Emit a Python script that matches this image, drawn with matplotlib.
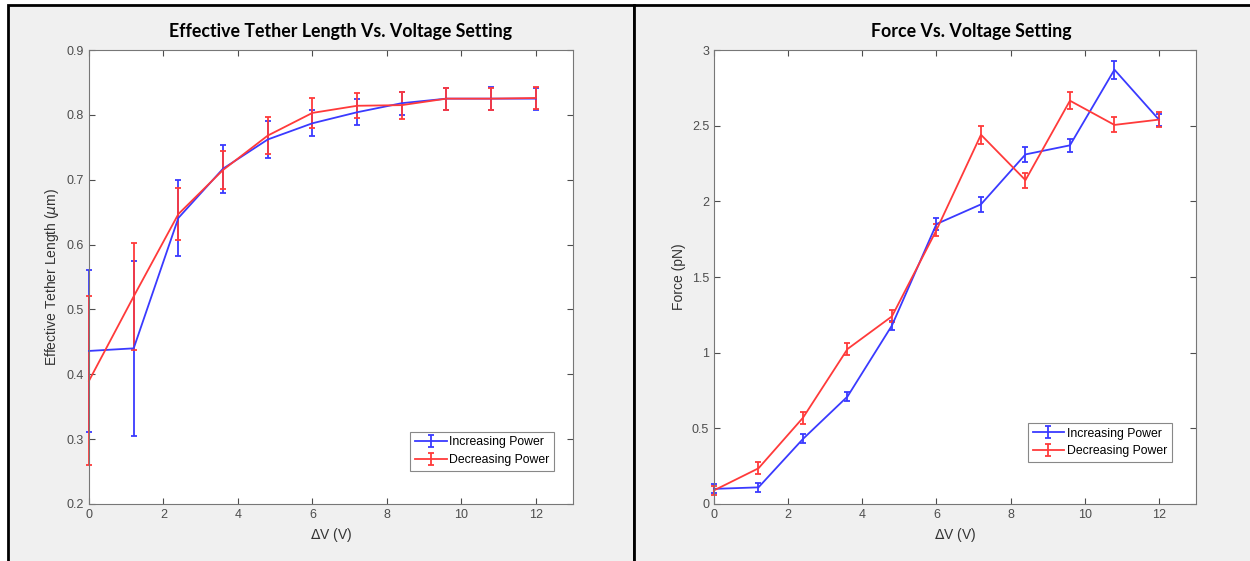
import numpy as np
import matplotlib
matplotlib.use("Agg")
import matplotlib.pyplot as plt
from matplotlib.patches import Rectangle
from matplotlib.ticker import FormatStrFormatter

plt.rcParams['font.family'] = ['Liberation Sans', 'DejaVu Sans']

# voltage steps
dV = [0, 1.2, 2.4, 3.6, 4.8, 6, 7.2, 8.4, 9.6, 10.8, 12]

# effective tether length (um)
lenInc = [0.436, 0.440, 0.641, 0.717, 0.762, 0.787, 0.804, 0.818, 0.825, 0.825, 0.825]
lenIncErr = [0.125, 0.135, 0.058, 0.037, 0.028, 0.020, 0.020, 0.018, 0.017, 0.018, 0.017]
lenDec = [0.390, 0.520, 0.647, 0.715, 0.768, 0.803, 0.814, 0.815, 0.825, 0.825, 0.826]
lenDecErr = [0.130, 0.082, 0.040, 0.030, 0.029, 0.023, 0.019, 0.021, 0.017, 0.017, 0.017]

# force (pN)
fInc = [0.10, 0.11, 0.43, 0.71, 1.18, 1.85, 1.98, 2.31, 2.37, 2.87, 2.54]
fIncErr = [0.03, 0.03, 0.03, 0.03, 0.03, 0.04, 0.05, 0.05, 0.045, 0.06, 0.04]
fDec = [0.09, 0.236, 0.57, 1.024, 1.24, 1.81, 2.44, 2.14, 2.665, 2.505, 2.54]
fDecErr = [0.03, 0.04, 0.04, 0.04, 0.04, 0.04, 0.06, 0.05, 0.055, 0.05, 0.05]

blue = '#3a3aff'
red = '#ff3a3a'
axcol = '#4d4d4d'

fig = plt.figure(figsize=(12.5, 5.61), dpi=100)
fig.patch.set_facecolor('white')

# the two grey panels with black frames
for x0, w in [(8, 626), (634, 620)]:
    fig.patches.append(Rectangle((x0 / 1250, -0.01), w / 1250, (561 - 5) / 561 + 0.01,
                                 transform=fig.transFigure, facecolor='#f0f0f0',
                                 edgecolor='black', linewidth=2, zorder=-5))


def make_panel(rect, ys1, e1, ys2, e2, ylim, yticks, ylabel, title, titlex, legpos):
    ax = fig.add_axes(rect)
    ax.set_facecolor('white')
    for ys, e, c, lab in [(ys1, e1, blue, 'Increasing Power'), (ys2, e2, red, 'Decreasing Power')]:
        cont = ax.errorbar(dV, ys, yerr=e, color=c, lw=1.3, capsize=2.5, capthick=1.3,
                           elinewidth=1.3, label=lab)
        for a in cont.get_children():
            a.set_clip_on(False)
    ax.set_xlim(0, 13)
    ax.set_ylim(ylim)
    ax.set_xticks([0, 2, 4, 6, 8, 10, 12])
    ax.set_yticks(yticks)
    ax.yaxis.set_major_formatter(FormatStrFormatter('%g'))
    ax.tick_params(direction='in', top=True, right=True, labelsize=9,
                   colors=axcol, length=4, width=0.8)
    for s in ax.spines.values():
        s.set_color('#777777')
        s.set_linewidth(0.8)
    ax.set_xlabel(r'$\Delta$V (V)', fontsize=10, color='#333333')
    ax.set_ylabel(ylabel, fontsize=10, color='#333333')
    ax.set_title(title, fontsize=12.8, fontweight='bold', family='Lato', pad=9, x=titlex)
    leg = ax.legend(loc='lower right', bbox_to_anchor=legpos, fontsize=8.8,
                    fancybox=False, edgecolor='#888888', framealpha=1,
                    handlelength=2.6, handletextpad=0.2, borderpad=0.4,
                    labelspacing=0.45, borderaxespad=0)
    leg.get_frame().set_linewidth(0.8)
    return ax


make_panel([89 / 1250, 1 - 504 / 561, 484 / 1250, 454 / 561],
           lenInc, lenIncErr, lenDec, lenDecErr,
           (0.2, 0.9), [0.2, 0.3, 0.4, 0.5, 0.6, 0.7, 0.8, 0.9],
           r'Effective Tether Length ($\mu$m)',
           'Effective Tether Length Vs. Voltage Setting', 0.52, (0.961, 0.073))

make_panel([714 / 1250, 1 - 504 / 561, 482 / 1250, 454 / 561],
           fInc, fIncErr, fDec, fDecErr,
           (0, 3), [0, 0.5, 1, 1.5, 2, 2.5, 3],
           'Force (pN)', 'Force Vs. Voltage Setting', 0.533, (0.950, 0.0925))

fig.savefig('out.png', dpi=100)
